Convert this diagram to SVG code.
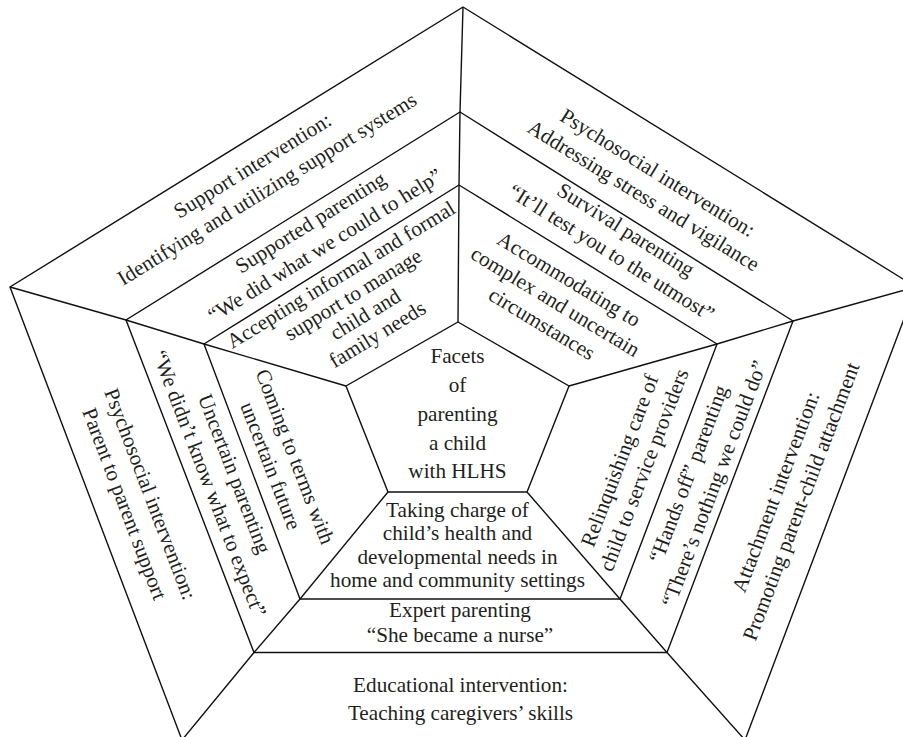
<svg xmlns="http://www.w3.org/2000/svg" width="903" height="737" viewBox="0 0 903 737">
<style>
.ln { fill: none; stroke: #111; stroke-width: 1.4; stroke-linejoin: miter; }
.t { font-family: "Liberation Serif", "Times New Roman", serif; font-size: 21.2px; fill: #231f20; text-anchor: middle; }
</style>
<rect width="903" height="737" fill="#fff"/>
<g id="connectors">
<polygon class="ln" points="463,7 916,287 745,740 182,740 10,287"/>
<polygon class="ln" points="460,112 793,321 667,652.5 254,652.5 126,320"/>
<polygon class="ln" points="459,185 717,344 620,599 300,599 204,344"/>
<polygon class="ln" points="458,322 569,386 527,492 388,492 346,386"/>
<polyline class="ln" points="463,7 460,112 459,185 458,322"/>
<polyline class="ln" points="10,287 126,320 204,344 346,386"/>
<polyline class="ln" points="916,287 793,321 717,344 569,386"/>
<polyline class="ln" points="182,740 254,652.5 300,599 388,492"/>
<polyline class="ln" points="745,740 667,652.5 620,599 527,492"/>
</g>
<g id="center" class="t">
<text x="457.5" y="363.3">Facets</text>
<text x="457.5" y="392">of</text>
<text x="457.5" y="420.8">parenting</text>
<text x="457.5" y="449.5">a child</text>
<text x="457.5" y="478.3">with HLHS</text>
</g>
<g id="support-intervention" class="t" transform="translate(264.75,181.5) rotate(-31.7)">
<text x="-2" y="-13">Support intervention:</text>
<text x="-2" y="14.5">Identifying and utilizing support systems</text>
</g>
<g id="psychosocial-stress" class="t" transform="translate(658,181.75) rotate(31.7)">
<text x="-5" y="-0.5">Psychosocial intervention:</text>
<text x="-5" y="26.5">Addressing stress and vigilance</text>
</g>
<g id="supported-parenting" class="t" transform="translate(312.25,240.25) rotate(-31.9)">
<text x="8" y="-9">Supported parenting</text>
<text x="8" y="18">“We did what we could to help”</text>
</g>
<g id="survival-parenting" class="t" transform="translate(607.25,240.5) rotate(32.1)">
<text x="10" y="-12">Survival parenting</text>
<text x="10" y="15">“It’ll test you to the utmost”</text>
</g>
<g id="accepting-support" class="t" transform="translate(366.75,309.25) rotate(-31.4)">
<text x="-4" y="-36">Accepting informal and formal</text>
<text x="-4" y="-12.7">support to manage</text>
<text x="-4" y="10.6">child and</text>
<text x="-4" y="33.9">family needs</text>
</g>
<g id="accommodating" class="t" transform="translate(550.75,309.25) rotate(31.2)">
<text x="0" y="-28">Accommodating to</text>
<text x="0" y="-2">complex and uncertain</text>
<text x="0" y="24">circumstances</text>
</g>
<g id="relinquishing" class="t" transform="translate(608.25,455.25) rotate(-69)">
<text x="-1" y="19.5">Relinquishing care of</text>
<text x="-1" y="45.5">child to service providers</text>
</g>
<g id="hands-off-parenting" class="t" transform="translate(699.25,479) rotate(-69.2)">
<text x="1" y="-5">“Hands off” parenting</text>
<text x="1" y="22.5">“There’s nothing we could do”</text>
</g>
<g id="attachment-intervention" class="t" transform="translate(780.25,500) rotate(-69.3)">
<text x="6" y="0">Attachment intervention:</text>
<text x="6" y="27">Promoting parent-child attachment</text>
</g>
<g id="psychosocial-parent" class="t" transform="translate(143,500) rotate(69.2)">
<text x="-3" y="-2">Psychosocial intervention:</text>
<text x="-3" y="25.5">Parent to parent support</text>
</g>
<g id="uncertain-parenting" class="t" transform="translate(221,479) rotate(69)">
<text x="0" y="-7.5">Uncertain parenting</text>
<text x="0" y="19.5">“We didn’t know what to expect”</text>
</g>
<g id="coming-to-terms" class="t" transform="translate(309.5,455.25) rotate(69)">
<text x="-4" y="21">Coming to terms with</text>
<text x="-4" y="47">uncertain future</text>
</g>
<g id="taking-charge" class="t">
<text x="457.5" y="516.5">Taking charge of</text>
<text x="457.5" y="540">child’s health and</text>
<text x="457.5" y="563.5">developmental needs in</text>
<text x="457.5" y="587">home and community settings</text>
</g>
<g id="expert-parenting" class="t">
<text x="460" y="617">Expert parenting</text>
<text x="460" y="642">“She became a nurse”</text>
</g>
<g id="educational-intervention" class="t">
<text x="460.5" y="692">Educational intervention:</text>
<text x="460.5" y="719.5">Teaching caregivers’ skills</text>
</g>
</svg>
